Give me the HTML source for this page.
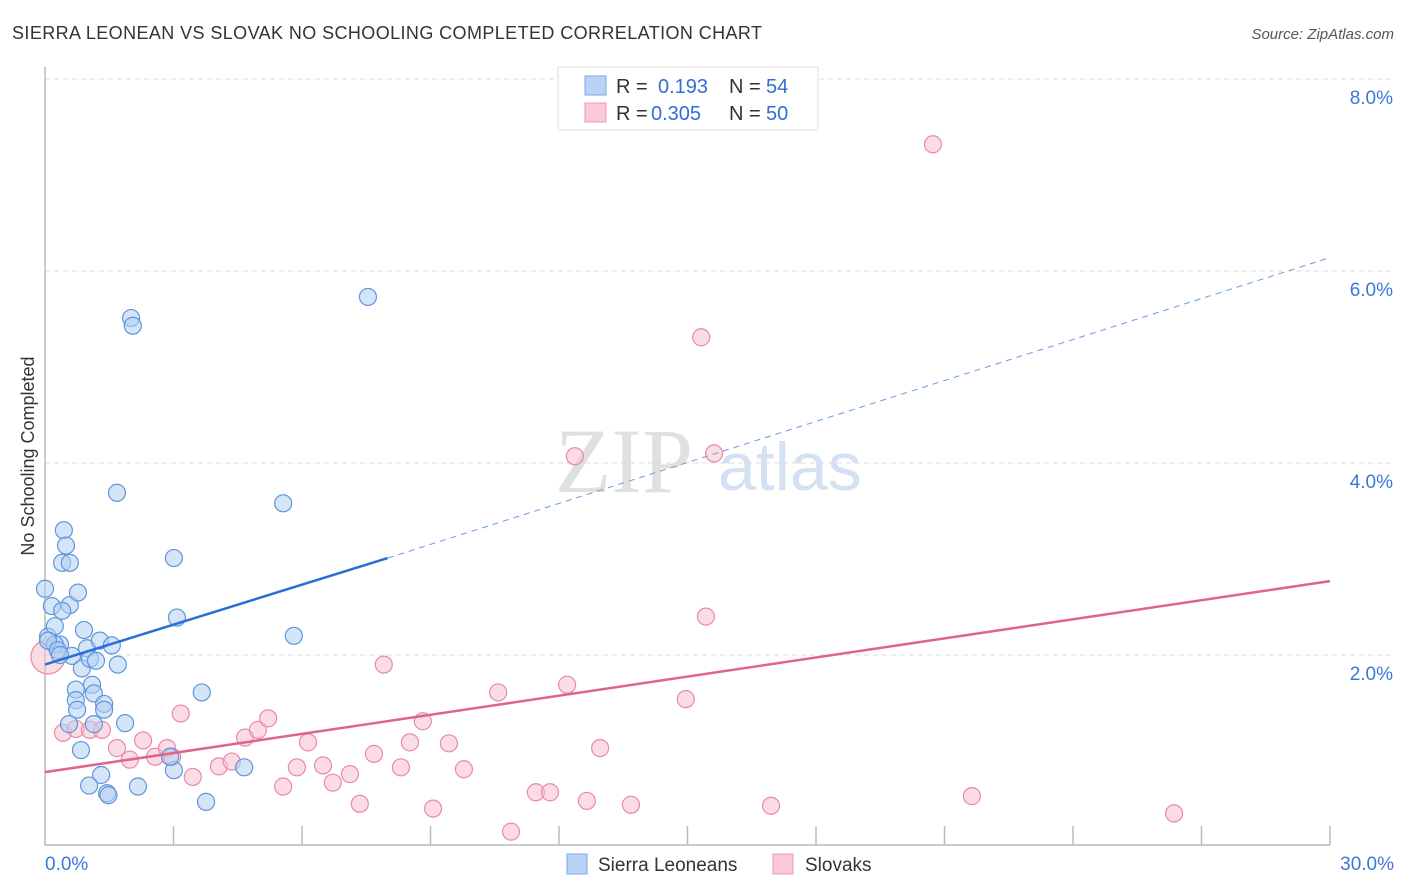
<!DOCTYPE html>
<html><head><meta charset="utf-8"><style>
body{margin:0;background:#fff;font-family:"Liberation Sans",sans-serif}
svg{display:block}
</style></head><body>
<svg id="chart" width="1406" height="892" xmlns="http://www.w3.org/2000/svg">
<text x="12" y="39" font-size="18" fill="#333" textLength="750">SIERRA LEONEAN VS SLOVAK NO SCHOOLING COMPLETED CORRELATION CHART</text>
<text x="1394" y="39" font-size="15" fill="#555" text-anchor="end" font-style="italic">Source: ZipAtlas.com</text>
<g>
<text x="555" y="492" font-size="92" fill="#ddd" font-family="Liberation Serif,serif" opacity="0.9">ZIP</text>
<text x="718" y="490" font-size="68" fill="#c9daf0" opacity="0.8">atlas</text>
</g>
<g id="grid"></g>
<g id="axes"></g>
<g id="marks"></g>
<text transform="translate(34,456) rotate(-90)" font-size="18" fill="#333" text-anchor="middle">No Schooling Completed</text>
<g>
<rect x="558" y="67" width="260" height="63" fill="#fff" stroke="#ddd"/>
<rect x="585" y="76" width="21" height="19" fill="#b8d3f5" stroke="#7aa8e6"/>
<rect x="585" y="103" width="21" height="19" fill="#fbc8d6" stroke="#ee9ab3"/>
<text x="616" y="93" font-size="20" fill="#333">R =</text>
<text x="658" y="93" font-size="20" fill="#2f6fd6">0.193</text>
<text x="729" y="93" font-size="20" fill="#333">N =</text>
<text x="766" y="93" font-size="20" fill="#2f6fd6">54</text>
<text x="616" y="120" font-size="20" fill="#333">R =</text>
<text x="651" y="120" font-size="20" fill="#2f6fd6">0.305</text>
<text x="729" y="120" font-size="20" fill="#333">N =</text>
<text x="766" y="120" font-size="20" fill="#2f6fd6">50</text>
</g>
<g>
<rect x="567" y="854" width="20" height="20" fill="#b8d3f5" stroke="#7aa8e6"/>
<text x="598" y="871" font-size="19" fill="#333">Sierra Leoneans</text>
<rect x="773" y="854" width="20" height="20" fill="#fbc8d6" stroke="#ee9ab3"/>
<text x="805" y="871" font-size="19" fill="#333">Slovaks</text>
</g>
</svg>
<script>
const yTicks=[2,4,6,8];
const yTickLabels=["2.0%","4.0%","6.0%","8.0%"];
const xTickLabels=["0.0%","30.0%"];
const blueX=[0,0.16,0.07,0.23,0.35,0.44,0.49,0.40,0.58,0.58,0.40,0.77,0.91,0.98,0.63,0.86,1.28,1.56,1.70,0.72,0.72,1.10,1.14,0.75,1.38,1.38,1.14,0.56,1.87,0.84,1.31,1.03,1.45,1.48,2.17,3.01,2.92,3.76,4.65,3.66,3.01,3.08,1.68,2.01,2.05,5.56,5.81,7.54,0.23,0.07,0.30,1.05,1.19,0.35];
const blueY=[2.69,2.51,2.19,2.30,2.11,3.30,3.14,2.96,2.96,2.52,2.46,2.65,2.26,2.07,1.99,1.86,2.15,2.10,1.90,1.64,1.53,1.69,1.60,1.43,1.49,1.43,1.28,1.28,1.29,1.01,0.75,0.64,0.56,0.54,0.63,0.80,0.94,0.47,0.83,1.61,3.01,2.39,3.69,5.51,5.43,3.58,2.20,5.73,2.11,2.15,2.05,1.96,1.94,2.00];
const pinkX=[0.07,0.42,0.72,1.05,1.33,1.68,1.98,2.29,2.57,2.85,2.97,3.17,3.45,4.06,4.36,4.67,4.97,5.21,5.56,5.88,6.14,6.49,6.72,7.12,7.35,7.68,7.91,8.31,8.52,8.82,9.06,9.43,9.78,10.58,10.88,11.46,11.79,12.19,12.37,12.65,12.96,13.68,14.96,15.32,15.43,15.62,16.95,20.73,21.64,26.36];
const pinkY=[1.98,1.19,1.23,1.22,1.22,1.03,0.91,1.11,0.94,1.03,0.94,1.39,0.73,0.84,0.89,1.14,1.22,1.34,0.63,0.83,1.09,0.85,0.67,0.76,0.45,0.97,1.90,0.83,1.09,1.31,0.40,1.08,0.81,1.61,0.16,0.57,0.57,1.69,4.07,0.48,1.03,0.44,1.54,5.31,2.40,4.10,0.43,7.32,0.53,0.35];
const blueFit=[[0,1.90],[8,3.01],[30,6.14]];
const pinkFit=[[0,0.78],[30,2.77]];
const X=v=>45+v/30*1285, Y=v=>847-v*96;
const NS="http://www.w3.org/2000/svg";
function mk(tag,at,parent){const e=document.createElementNS(NS,tag);for(const k in at)e.setAttribute(k,at[k]);parent.appendChild(e);return e;}
const grid=document.getElementById('grid'),axes=document.getElementById('axes'),marks=document.getElementById('marks');
yTicks.forEach((t,i)=>{
 const l=mk('line',{x1:45,x2:1394,y1:Y(t),y2:Y(t),stroke:'#ddd','stroke-dasharray':'5,4'},grid);
 
 
 const tx=mk('text',{x:1393,y:Y(t)+25,'font-size':19,fill:'#3a78d8','text-anchor':'end'},axes);
 tx.textContent=yTickLabels[i];
 
 
});
const ax=mk('path',{d:'M45,67 V845 H1330',fill:'none',stroke:'#bbb','stroke-width':1.5},axes);


for(let i=1;i<=10;i++){
 const t=mk('line',{x1:X(i*3),x2:X(i*3),y1:826,y2:845,stroke:'#bbb','stroke-width':1.5},axes);
 
 
}
[[0,'start',45],[1,'end',1394]].forEach(([i,a,x])=>{
 const t=mk('text',{x:x,y:870,'font-size':19,fill:'#3a78d8','text-anchor':a},axes);
 t.textContent=xTickLabels[i];
 
 
});
function dots(xs,ys,fill,stroke,name){
 xs.forEach((v,i)=>{
  const c=mk('circle',{cx:X(v),cy:Y(ys[i]),r:(name==='slovak-point'&&i===0)?17:8.5,fill:fill,'fill-opacity':0.55,stroke:stroke,'stroke-width':1.2},marks);
  
  
 });
}
dots(pinkX,pinkY,'#f8bfd0','#e88aa8','slovak-point');
dots(blueX,blueY,'#b3cff3','#5f95de','sierra-leonean-point');
const b1=mk('line',{x1:X(blueFit[0][0]),y1:Y(blueFit[0][1]),x2:X(blueFit[1][0]),y2:Y(blueFit[1][1]),stroke:'#2a6fd6','stroke-width':2.5},marks);


const b2=mk('line',{x1:X(blueFit[1][0]),y1:Y(blueFit[1][1]),x2:X(blueFit[2][0]),y2:Y(blueFit[2][1]),stroke:'#6a9ae0','stroke-width':1,'stroke-dasharray':'6,5'},marks);


const p1=mk('line',{x1:X(pinkFit[0][0]),y1:Y(pinkFit[0][1]),x2:X(pinkFit[1][0]),y2:Y(pinkFit[1][1]),stroke:'#e0628e','stroke-width':2.5},marks);


</script>
</body></html>
